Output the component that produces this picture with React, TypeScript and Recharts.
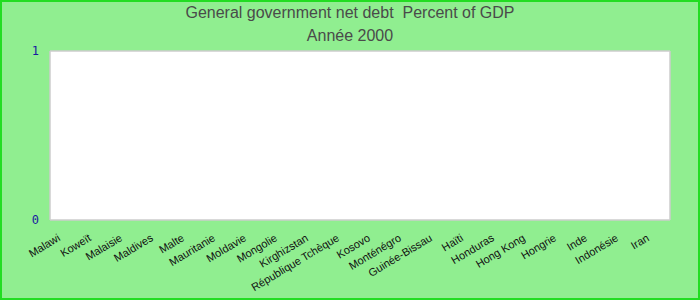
import { Bar, BarChart, CartesianGrid, XAxis, YAxis } from 'recharts';

const COUNTRIES = [
  'Malawi', 'Koweït', 'Malaisie', 'Maldives', 'Malte', 'Mauritanie', 'Moldavie',
  'Mongolie', 'Kirghizstan', 'République Tchèque', 'Kosovo', 'Monténégro',
  'Guinée-Bissau', 'Haïti', 'Honduras', 'Hong Kong', 'Hongrie', 'Inde',
  'Indonésie', 'Iran',
];
// no values reported for 2000
const DEBT: (number | null)[] = COUNTRIES.map(() => null);
const Y_TICKS = [0, 1];

const TITLE = 'General government net debt  Percent of GDP';
const SUBTITLE = 'Année 2000';

const data = COUNTRIES.map((name, i) => ({ name, debt: DEBT[i] }));

function CountryTick(props: any) {
  const { x, y, payload } = props;
  const tx = x - 4.5;
  const ty = y + 12;
  return (
    <text
      x={tx}
      y={ty}
      transform={`rotate(-31, ${tx}, ${ty})`}
      textAnchor="end"
      fontSize={11}
      fontFamily="'Liberation Sans', Arial, sans-serif"
      fill="#111"
    >
      {payload.value}
    </text>
  );
}

function ValueTick(props: any) {
  const { x, y, payload } = props;
  return (
    <text
      x={x - 1}
      y={y}
      dy={4}
      textAnchor="end"
      fontSize={12}
      fontFamily="'DejaVu Sans Mono', monospace"
      fill="#1a1aa0"
    >
      {payload.value}
    </text>
  );
}

const titleStyle: React.CSSProperties = {
  position: 'absolute',
  left: 0,
  width: 700,
  textAlign: 'center',
  fontFamily: "'Liberation Sans', Arial, sans-serif",
  fontSize: 16,
  lineHeight: '18px',
  color: '#4a4a4a',
  whiteSpace: 'pre',
};

export default function App() {
  return (
    <div
      style={{
        position: 'absolute',
        top: 0,
        left: 0,
        width: 700,
        height: 300,
        background: '#90ee90',
        boxShadow: 'inset 0 0 0 2px #22dd22',
      }}
    >
      <div style={{ ...titleStyle, top: 4 }}>{TITLE}</div>
      <div style={{ ...titleStyle, top: 27 }}>{SUBTITLE}</div>
      <BarChart
        width={700}
        height={300}
        data={data}
        margin={{ top: 51, right: 30, bottom: 0, left: 0 }}
        style={{ position: 'absolute', top: 0, left: 0 }}
      >
        <CartesianGrid
          fill="#ffffff"
          stroke="#cccccc"
          strokeWidth={1.5}
          verticalCoordinatesGenerator={({ offset }: any) => [
            offset.left,
            offset.left + offset.width,
          ]}
        />
        <XAxis
          dataKey="name"
          height={80}
          interval={0}
          axisLine={false}
          tickLine={false}
          tick={<CountryTick />}
        />
        <YAxis
          type="number"
          domain={[0, 1]}
          allowDataOverflow
          ticks={Y_TICKS}
          interval={0}
          width={50}
          axisLine={false}
          tickLine={false}
          tickMargin={4}
          tick={<ValueTick />}
        />
        <Bar dataKey="debt" fill="#4472c4" isAnimationActive={false} />
      </BarChart>
    </div>
  );
}
